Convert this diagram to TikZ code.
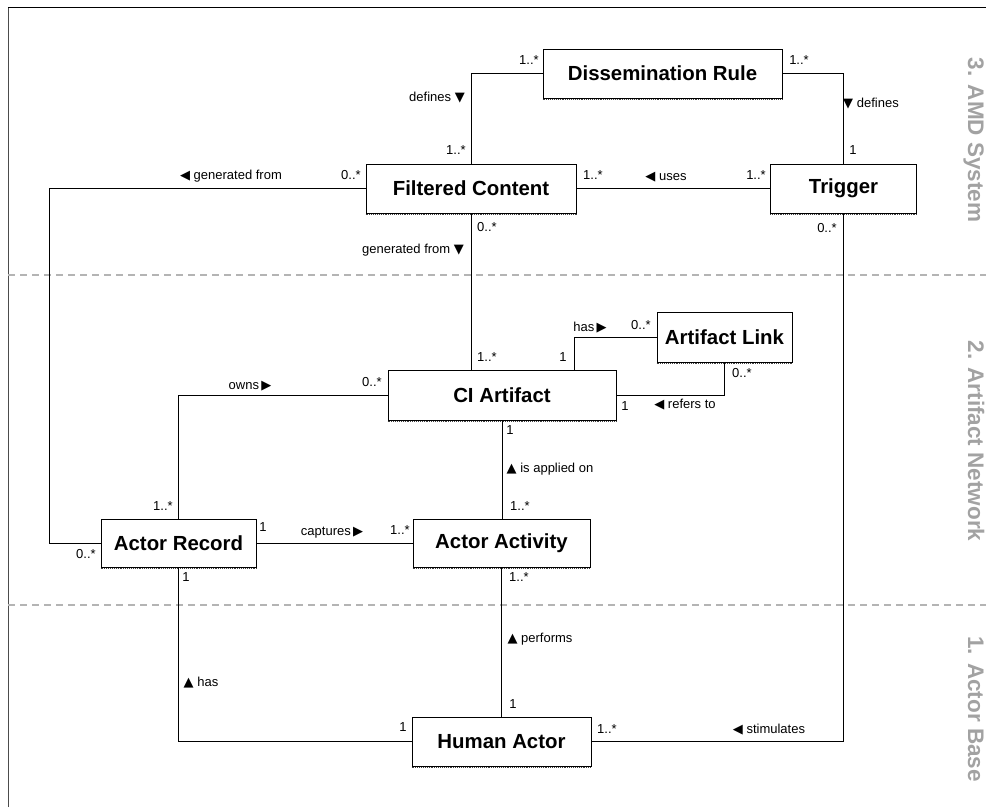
\documentclass[tikz,border=0pt]{standalone}
\usepackage{fontspec}
\setmainfont{Liberation Sans}
\newfontfamily\symf{DejaVu Sans}
\newcommand{\tdn}{{\symf ▼}}
\newcommand{\tup}{{\symf ▲}}
\newcommand{\tlt}{{\symf ◀}}
\newcommand{\trt}{{\symf ▶}}
\definecolor{lanegray}{HTML}{B4B4B4}
\definecolor{lanetext}{HTML}{A2A2A2}
\begin{document}
\begin{tikzpicture}[x=1pt,y=-1pt,
  cls/.style={draw, line width=1pt, fill=white, inner sep=0pt,
    font=\bfseries\fontsize{20.4}{24}\selectfont},
  lbl/.style={inner sep=0pt, anchor=mid, font=\fontsize{13}{15}\selectfont},
  link/.style={line width=0.9pt},
  shade/.style={black!75, line width=0.9pt, densely dotted},
  lane/.style={draw=lanegray, line width=1.3pt, dash pattern=on 7pt off 5pt},
  lanename/.style={text=lanetext, rotate=-90, anchor=base, inner sep=0pt,
    font=\bfseries\fontsize{22.5}{26}\selectfont}]
\useasboundingbox (0,0) rectangle (986,807);

% frame
\draw[black!70, line width=1pt] (8,807) -- (8,7);
\draw[black, line width=1pt] (8,7) -- (986,7);

% layer separators
\draw[lane] (8,275) -- (986,275);
\draw[lane] (8,605) -- (986,605);

% layer names
\node[lanename] (n3) at (968,140) {3. AMD System};
\node[lanename] (n2) at (968,441) {2. Artifact Network};
\node[lanename] (n1) at (968,709) {1. Actor Base};

% classes
\node[cls, minimum width=239pt, minimum height=49pt] (dr) at (662.5,73.5) {Dissemination Rule};
\node[cls, minimum width=210pt, minimum height=49pt] (fc) at (471,188.5) {Filtered Content};
\node[cls, minimum width=146pt, minimum height=49pt] (tr) at (843.5,188.5) {Trigger};
\node[cls, minimum width=228pt, minimum height=50pt] (ci) at (502,395) {CI Artifact};
\node[cls, minimum width=135pt, minimum height=50pt] (al) at (724.5,337) {Artifact Link};
\node[cls, minimum width=155pt, minimum height=48pt] (ar) at (178.5,543) {Actor Record};
\node[cls, minimum width=177pt, minimum height=48pt] (aa) at (501.5,543) {Actor Activity};
\node[cls, minimum width=179pt, minimum height=49pt] (ha) at (501.5,741.5) {Human Actor};

% soft lower edge of each class box
\foreach \c in {dr,fc,tr,ci,al,ar,aa,ha}
  \draw[shade] ([yshift=-1pt]\c.south west) -- ([yshift=-1pt]\c.south east);

% routing helpers
\coordinate (gx) at (49,0);
\coordinate (hx) at (574,0);
\coordinate (vx) at (843,0);

% associations
\draw[link] (dr.west) -| (fc.north);
\draw[link] (dr.east) -| (tr.north);
\draw[link] (fc.east) -- (tr.west);
\draw[link] (fc.west) -- (fc.west -| gx) -- (ar.west -| gx) -- (ar.west);
\draw[link] (fc.south) -- (fc.south |- ci.north);
\draw[link] (ci.west) -| (ar.north);
\draw[link] (ci.north -| hx) |- (al.west);
\draw[link] (al.south) |- (ci.east);
\draw[link] (ci.south) -- (ci.south |- aa.north);
\draw[link] (ar.east) -- (aa.west);
\draw[link] (ar.south) |- (ha.west);
\draw[link] (aa.south) -- (aa.south |- ha.north);
\draw[link] (tr.south) |- (ha.east);

% role names and multiplicities
\node[lbl] (lb1) at (529,62) {1..*};
\node[lbl] (lb2) at (437,99) {defines \tdn};
\node[lbl] (lb3) at (456,152) {1..*};
\node[lbl] (lb4) at (799,62) {1..*};
\node[lbl] (lb5) at (871,105) {\tdn\ defines};
\node[lbl] (lb6) at (853,152) {1};
\node[lbl] (lb7) at (351,177) {0..*};
\node[lbl] (lb8) at (231,177) {\tlt\ generated from};
\node[lbl] (lb9) at (593,177) {1..*};
\node[lbl] (lb10) at (666,178) {\tlt\ uses};
\node[lbl] (lb11) at (756,177) {1..*};
\node[lbl] (lb12) at (487,229) {0..*};
\node[lbl] (lb13) at (413,251) {generated from \tdn};
\node[lbl] (lb14) at (827,230) {0..*};
\node[lbl] (lb15) at (590,329) {has\,\trt};
\node[lbl] (lb16) at (641,327) {0..*};
\node[lbl] (lb17) at (487,359) {1..*};
\node[lbl] (lb18) at (563,359) {1};
\node[lbl] (lb19) at (250,387) {owns\,\trt};
\node[lbl] (lb20) at (372,384) {0..*};
\node[lbl] (lb21) at (742,375) {0..*};
\node[lbl] (lb22) at (685,406) {\tlt\ refers to};
\node[lbl] (lb23) at (625,408) {1};
\node[lbl] (lb24) at (510,432) {1};
\node[lbl] (lb25) at (550,470) {\tup\ is applied on};
\node[lbl] (lb26) at (520,508) {1..*};
\node[lbl] (lb27) at (163,508) {1..*};
\node[lbl] (lb28) at (263,529) {1};
\node[lbl] (lb29) at (332,533) {captures\,\trt};
\node[lbl] (lb30) at (400,532) {1..*};
\node[lbl] (lb31) at (86,556) {0..*};
\node[lbl] (lb32) at (186,579) {1};
\node[lbl] (lb33) at (519,579) {1..*};
\node[lbl] (lb34) at (540,640) {\tup\ performs};
\node[lbl] (lb35) at (201,684) {\tup\ has};
\node[lbl] (lb36) at (513,706) {1};
\node[lbl] (lb37) at (403,729) {1};
\node[lbl] (lb38) at (607,731) {1..*};
\node[lbl] (lb39) at (769,731) {\tlt\ stimulates};
\end{tikzpicture}
\end{document}
